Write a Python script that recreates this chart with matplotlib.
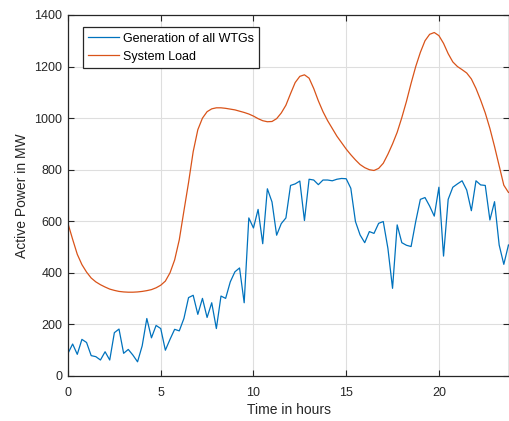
import matplotlib
matplotlib.use("Agg")
import matplotlib.pyplot as plt
import numpy as np

# time axis: 15-minute steps over one day
hours = np.arange(96) * 0.25

# generation of all WTGs (MW)
wtg_gen = [88, 124, 84, 142, 130, 79, 75, 62, 94, 62, 168, 182,
           88, 103, 81, 55, 117, 223, 148, 196, 184, 100, 142, 181,
           175, 223, 304, 313, 239, 301, 227, 284, 184, 310, 301, 365,
           404, 419, 284, 613, 574, 646, 513, 726, 675, 546, 591, 613,
           739, 745, 756, 603, 763, 760, 742, 760, 760, 757, 763, 766,
           765, 728, 599, 547, 517, 560, 553, 592, 599, 495, 340, 586,
           517, 507, 502, 599, 685, 692, 659, 620, 732, 465, 685, 732,
           745, 757, 721, 641, 757, 741, 739, 605, 676, 508, 433, 508]

# system load (MW)
sys_load = [591, 530, 472, 432, 403, 380, 365, 354, 345, 337, 332, 328,
            326, 325, 325, 326, 328, 331, 335, 342, 352, 368, 400, 450,
            528, 640, 750, 870, 955, 1000, 1025, 1036, 1040, 1040, 1038, 1035,
            1032, 1027, 1022, 1016, 1008, 998, 990, 986, 987, 998, 1020, 1050,
            1095, 1138, 1162, 1168, 1155, 1115, 1067, 1025, 990, 960, 930, 905,
            880, 858, 838, 820, 808, 800, 797, 805, 825, 860, 900, 945,
            1002, 1065, 1135, 1200, 1255, 1300, 1325, 1332, 1320, 1290, 1250, 1218,
            1200, 1188, 1175, 1152, 1115, 1070, 1020, 960, 890, 815, 740, 712]

plt.rcParams['font.family'] = ['Liberation Sans', 'DejaVu Sans']
dark = '#262626'

fig = plt.figure(figsize=(5.09, 4.21), dpi=100)
ax = fig.add_axes([0.1336, 0.1069, 0.8664, 0.8575])

ax.plot(hours, wtg_gen, color='#0072BD', lw=0.9, label='Generation of all WTGs')
ax.plot(hours, sys_load, color='#D95319', lw=0.9, label='System Load')

ax.set_xlim(0, 23.78)
ax.set_ylim(0, 1400)
ax.set_xticks([0, 5, 10, 15, 20])
ax.set_yticks(np.arange(0, 1401, 200))
ax.grid(True, color='#dedede', lw=0.8)
ax.set_axisbelow(True)
ax.tick_params(direction='in', length=4, width=0.8, colors=dark,
               labelsize=9, top=True, right=True, pad=4)
ax.tick_params(axis='x', pad=8)
for s in ax.spines.values():
    s.set_color(dark)
    s.set_linewidth(0.9)

ax.set_xlabel('Time in hours', fontsize=10, color=dark, labelpad=3)
ax.set_ylabel('Active Power in MW', fontsize=10, color=dark, labelpad=4)

leg = ax.legend(loc='upper left', fontsize=9, fancybox=False, framealpha=1,
                edgecolor=dark, handlelength=2.5, borderpad=0.45,
                labelspacing=0.5, handletextpad=0.25, borderaxespad=0,
                bbox_to_anchor=(0.033, 0.967))
leg.get_frame().set_linewidth(0.9)

fig.savefig('out.png', dpi=100)
